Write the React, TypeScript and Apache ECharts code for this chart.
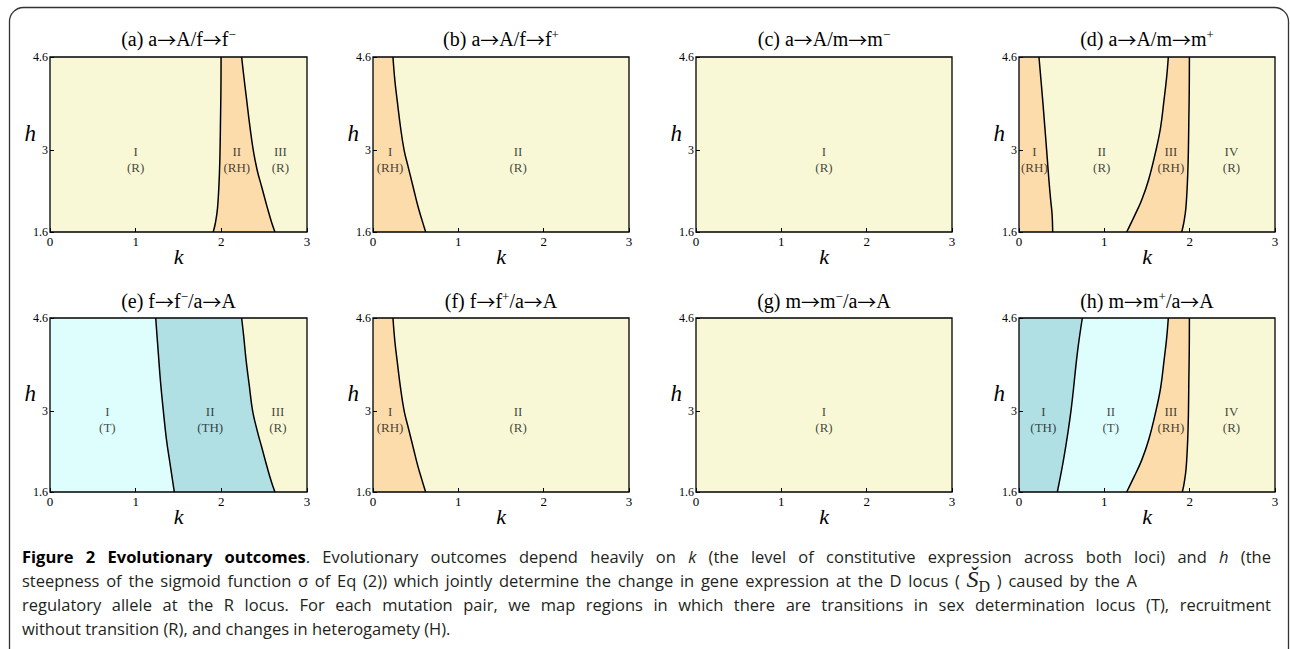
import React, { useEffect, useRef } from 'react';
import * as echarts from 'echarts';

// ---------- data ----------
const K_TICKS = [0, 1, 2, 3];
const H_TICKS = [1.6, 3, 4.6];
const K_MIN = 0, K_MAX = 3, H_MIN = 1.6, H_MAX = 4.6;
const LABEL_H = 2.85;

// boundary curves: [k, h]
const CURVE_A1 = [[1.905, 1.6], [1.93, 1.75], [1.955, 2.0], [1.975, 2.5], [1.985, 3.0], [1.99, 3.5], [1.995, 4.0], [1.997, 4.6]];
const CURVE_A2 = [[2.626, 1.6], [2.59, 1.75], [2.54, 2.0], [2.47, 2.38], [2.42, 2.65], [2.373, 3.0], [2.33, 3.45], [2.296, 3.86], [2.26, 4.3], [2.237, 4.6]];
const CURVE_B1 = [[0.617, 1.6], [0.575, 1.8], [0.525, 2.05], [0.469, 2.38], [0.415, 2.7], [0.365, 3.0], [0.322, 3.4], [0.283, 3.86], [0.256, 4.2], [0.234, 4.6]];
const CURVE_D1 = [[0.395, 1.6], [0.388, 1.9], [0.371, 2.15], [0.35, 2.5], [0.324, 3.0], [0.3, 3.45], [0.277, 3.87], [0.234, 4.6]];
const CURVE_D2 = [[1.262, 1.6], [1.348, 1.86], [1.438, 2.15], [1.52, 2.5], [1.605, 3.0], [1.66, 3.4], [1.7, 3.87], [1.73, 4.25], [1.75, 4.6]];
const CURVE_D3 = [[1.907, 1.6], [1.93, 1.75], [1.955, 2.0], [1.975, 2.5], [1.985, 3.0], [1.99, 3.5], [1.995, 4.0], [1.997, 4.6]];
const CURVE_E1 = [[1.451, 1.6], [1.4, 2.1], [1.36, 2.5], [1.323, 3.0], [1.29, 3.5], [1.264, 4.0], [1.234, 4.6]];
const CURVE_E2 = [[2.626, 1.6], [2.59, 1.75], [2.54, 2.0], [2.47, 2.38], [2.42, 2.65], [2.365, 3.0], [2.325, 3.45], [2.29, 3.86], [2.26, 4.3], [2.237, 4.6]];
const CURVE_F1 = [[0.617, 1.6], [0.575, 1.8], [0.525, 2.05], [0.469, 2.38], [0.415, 2.7], [0.365, 3.0], [0.322, 3.4], [0.283, 3.86], [0.256, 4.2], [0.234, 4.6]];
const CURVE_H1 = [[0.449, 1.6], [0.527, 2.2], [0.609, 3.0], [0.684, 4.0], [0.742, 4.6]];
const CURVE_H2 = [[1.262, 1.6], [1.348, 1.86], [1.438, 2.15], [1.52, 2.5], [1.605, 3.0], [1.66, 3.4], [1.7, 3.87], [1.73, 4.25], [1.75, 4.6]];
const CURVE_H3 = [[1.914, 1.6], [1.935, 1.75], [1.958, 2.0], [1.977, 2.5], [1.986, 3.0], [1.99, 3.5], [1.995, 4.0], [1.997, 4.6]];

// region labels: [k, numeral, outcome]
const LABELS_A = [[1.0, 'I', '(R)'], [2.18, 'II', '(RH)'], [2.69, 'III', '(R)']];
const LABELS_B = [[0.2, 'I', '(RH)'], [1.7, 'II', '(R)']];
const LABELS_C = [[1.5, 'I', '(R)']];
const LABELS_D = [[0.18, 'I', '(RH)'], [0.97, 'II', '(R)'], [1.78, 'III', '(RH)'], [2.49, 'IV', '(R)']];
const LABELS_E = [[0.67, 'I', '(T)'], [1.87, 'II', '(TH)'], [2.66, 'III', '(R)']];
const LABELS_F = [[0.2, 'I', '(RH)'], [1.7, 'II', '(R)']];
const LABELS_G = [[1.5, 'I', '(R)']];
const LABELS_H = [[0.285, 'I', '(TH)'], [1.075, 'II', '(T)'], [1.78, 'III', '(RH)'], [2.49, 'IV', '(R)']];

// titles: [text, kind]  m = main, r = arrow, s = superscript
const TITLE_A = [['(a) a', 'm'], ['→', 'r'], ['A/f', 'm'], ['→', 'r'], ['f', 'm'], ['−', 's']];
const TITLE_B = [['(b) a', 'm'], ['→', 'r'], ['A/f', 'm'], ['→', 'r'], ['f', 'm'], ['+', 's']];
const TITLE_C = [['(c) a', 'm'], ['→', 'r'], ['A/m', 'm'], ['→', 'r'], ['m', 'm'], ['−', 's']];
const TITLE_D = [['(d) a', 'm'], ['→', 'r'], ['A/m', 'm'], ['→', 'r'], ['m', 'm'], ['+', 's']];
const TITLE_E = [['(e) f', 'm'], ['→', 'r'], ['f', 'm'], ['−', 's'], ['/a', 'm'], ['→', 'r'], ['A', 'm']];
const TITLE_F = [['(f) f', 'm'], ['→', 'r'], ['f', 'm'], ['+', 's'], ['/a', 'm'], ['→', 'r'], ['A', 'm']];
const TITLE_G = [['(g) m', 'm'], ['→', 'r'], ['m', 'm'], ['−', 's'], ['/a', 'm'], ['→', 'r'], ['A', 'm']];
const TITLE_H = [['(h) m', 'm'], ['→', 'r'], ['m', 'm'], ['+', 's'], ['/a', 'm'], ['→', 'r'], ['A', 'm']];

// ---------- styles ----------
const SERIF = "'Liberation Serif', 'Times New Roman', 'DejaVu Serif', serif";
const SANS = "'Open Sans', 'Noto Sans', sans-serif";
const ARROW_FONT = "'Noto Sans CJK SC', 'DejaVu Serif', serif";
const Y = '#F8F8D6';
const O = '#FDDCAB';
const C = '#DEFEFE';
const T = '#B0DFE4';

const PANELS = [
  { title: TITLE_A, curves: [CURVE_A1, CURVE_A2], fills: [Y, O, Y], labels: LABELS_A },
  { title: TITLE_B, curves: [CURVE_B1], fills: [O, Y], labels: LABELS_B },
  { title: TITLE_C, curves: [], fills: [Y], labels: LABELS_C },
  { title: TITLE_D, curves: [CURVE_D1, CURVE_D2, CURVE_D3], fills: [O, Y, O, Y], labels: LABELS_D },
  { title: TITLE_E, curves: [CURVE_E1, CURVE_E2], fills: [C, T, Y], labels: LABELS_E },
  { title: TITLE_F, curves: [CURVE_F1], fills: [O, Y], labels: LABELS_F },
  { title: TITLE_G, curves: [], fills: [Y], labels: LABELS_G },
  { title: TITLE_H, curves: [CURVE_H1, CURVE_H2, CURVE_H3], fills: [T, C, O, Y], labels: LABELS_H },
];

const GRID_LEFTS = [50, 373, 696, 1019];
const GRID_WIDTHS = [257, 256, 256, 256];
const GRID_TOPS = [57, 318];
const GRID_HEIGHTS = [175, 174];
const TITLE_YS = [39, 301];

// ---------- caption ----------
type Part = { s: string; b?: boolean; i?: boolean; serif?: boolean; size?: number; dy?: number; glue?: boolean; color?: string };
const CAP_SIZE = 16.5;
const CAP_X0 = 22;
const CAP_YS = [556, 580, 604, 628];
const CAPTION_LINES: { end: number | null; parts: Part[] }[] = [
  {
    end: 1271,
    parts: [
      { s: 'Figure 2 Evolutionary outcomes', b: true, color: '#000' },
      { s: '. Evolutionary outcomes depend heavily on', glue: true },
      { s: 'k', i: true },
      { s: '(the level of constitutive expression across both loci) and' },
      { s: 'h', i: true },
      { s: '(the' },
    ],
  },
  {
    end: 1137,
    parts: [
      { s: 'steepness of the sigmoid function σ of Eq (2)) which jointly determine the change in gene expression at the D locus (' },
      { s: 'Š', serif: true, i: true, size: 24, dy: -1 },
      { s: 'D', serif: true, size: 16, dy: 6, glue: true },
      { s: ') caused by the A' },
    ],
  },
  {
    end: 1271,
    parts: [
      { s: 'regulatory allele at the R locus. For each mutation pair, we map regions in which there are transitions in sex determination locus (T), recruitment' },
    ],
  },
  {
    end: null,
    parts: [{ s: 'without transition (R), and changes in heterogamety (H).' }],
  },
];

function buildCaption(): any[] {
  const canvas = document.createElement('canvas');
  const ctx = canvas.getContext('2d') as CanvasRenderingContext2D;
  const els: any[] = [];
  CAPTION_LINES.forEach((line, li) => {
    const words: any[] = [];
    line.parts.forEach((p) => {
      const ws = p.s.split(' ').filter((w) => w.length > 0);
      ws.forEach((w, wi) => words.push({ ...p, s: w, glue: wi === 0 ? !!p.glue : false }));
    });
    const fontOf = (w: any) =>
      `${w.i ? 'italic ' : ''}${w.b ? 'bold ' : ''}${w.size || CAP_SIZE}px ${w.serif ? SERIF : SANS}`;
    words.forEach((w) => {
      ctx.font = fontOf(w);
      w.width = ctx.measureText(w.s).width;
    });
    ctx.font = `${CAP_SIZE}px ${SANS}`;
    const space = ctx.measureText(' ').width;
    const nGaps = words.filter((w, i) => i > 0 && !w.glue).length;
    const total = words.reduce((a, w) => a + w.width, 0);
    const gap = line.end != null ? Math.max(space * 0.8, (line.end - CAP_X0 - total) / nGaps) : space;
    let x = CAP_X0;
    words.forEach((w, i) => {
      if (i > 0 && !w.glue) x += gap;
      els.push({
        type: 'text',
        x,
        y: CAP_YS[li] + (w.dy || 0),
        silent: true,
        style: {
          text: w.s,
          fontFamily: w.serif ? SERIF : SANS,
          fontSize: w.size || CAP_SIZE,
          fontWeight: w.b ? 'bold' : 'normal',
          fontStyle: w.i ? 'italic' : 'normal',
          fill: w.color || '#231F20',
          align: 'left',
          verticalAlign: 'middle',
        },
      });
      x += w.width;
    });
  });
  return els;
}

function sortByH(c: number[][]) {
  return c.slice().sort((a, b) => a[1] - b[1]);
}

function buildOption() {
  const grids: any[] = [];
  const xAxes: any[] = [];
  const yAxes: any[] = [];
  const series: any[] = [];
  const graphics: any[] = [];

  graphics.push({
    type: 'rect',
    z: -10,
    silent: true,
    shape: { x: 9.5, y: 7.5, width: 1279, height: 660, r: 14 },
    style: { fill: 'none', stroke: '#333', lineWidth: 1.3 },
  });

  PANELS.forEach((p, i) => {
    const col = i % 4, row = Math.floor(i / 4);
    const left = GRID_LEFTS[col], width = GRID_WIDTHS[col];
    const top = GRID_TOPS[row], height = GRID_HEIGHTS[row];
    grids.push({ left, top, width, height, show: true, borderColor: '#000', borderWidth: 1.3, backgroundColor: 'transparent', z: 10, containLabel: false });
    xAxes.push({
      gridIndex: i, type: 'value', min: K_MIN, max: K_MAX, interval: 1, z: 10,
      name: 'k', nameLocation: 'middle', nameGap: 13, nameMoveOverlap: false,
      nameTextStyle: { fontFamily: SERIF, fontStyle: 'italic', fontSize: 22, color: '#000' },
      axisLine: { show: false },
      axisTick: { show: true, inside: true, length: 4, lineStyle: { color: '#000', width: 1 } },
      axisLabel: { fontFamily: SERIF, fontSize: 13, color: '#000', margin: 3, showMinLabel: true, showMaxLabel: true, customValues: K_TICKS },
      splitLine: { show: false },
    });
    yAxes.push({
      gridIndex: i, type: 'value', min: H_MIN, max: H_MAX, z: 10,
      name: 'h', nameLocation: 'middle', nameRotate: 0, nameGap: 14, nameMoveOverlap: false,
      nameTextStyle: { fontFamily: SERIF, fontStyle: 'italic', fontSize: 23, color: '#000', verticalAlign: 'bottom' },
      axisLine: { show: false },
      axisTick: { show: true, inside: true, length: 4, lineStyle: { color: '#000', width: 1 }, customValues: H_TICKS },
      axisLabel: { fontFamily: SERIF, fontSize: 12, color: '#000', margin: 2, customValues: H_TICKS, formatter: (v: number) => String(v) },
      splitLine: { show: false },
    });

    const curves = p.curves.map(sortByH);
    const edgeL = [[K_MIN, H_MIN], [K_MIN, H_MAX]];
    const edgeR = [[K_MAX, H_MIN], [K_MAX, H_MAX]];
    const regions = p.fills.map((fill, ri) => ({
      left: ri === 0 ? edgeL : curves[ri - 1],
      right: ri === p.fills.length - 1 ? edgeR : curves[ri],
      fill,
    }));
    series.push({
      type: 'custom', xAxisIndex: i, yAxisIndex: i, silent: true, z: 1, clip: true,
      data: regions.map((r) => [(r.left[0][0] + r.right[0][0]) / 2, 3]),
      encode: { x: 0, y: 1 },
      renderItem: (params: any, api: any) => {
        const r = regions[params.dataIndex];
        const pts = [
          ...r.left.map((q) => api.coord(q)),
          ...r.right.slice().reverse().map((q) => api.coord(q)),
        ];
        return { type: 'polygon', shape: { points: pts }, style: { fill: r.fill, stroke: r.fill, lineWidth: 0.5 } };
      },
    });
    curves.forEach((c) => {
      series.push({
        type: 'line', xAxisIndex: i, yAxisIndex: i, data: c, showSymbol: false, symbol: 'none',
        smooth: 0.4, silent: true, z: 3,
        lineStyle: { color: '#000', width: 1.5 },
      });
    });
    series.push({
      type: 'scatter', xAxisIndex: i, yAxisIndex: i, symbolSize: 0, silent: true, z: 4,
      data: p.labels.map((l: any) => ({ value: [l[0], LABEL_H], name: l[1] + '\n' + l[2] })),
      label: {
        show: true, position: 'inside', formatter: '{b}',
        fontFamily: SERIF, fontSize: 13, lineHeight: 16, color: '#111',
      },
    });

    const richText = p.title.map((seg: any) => `{${seg[1]}|${seg[0]}}`).join('');
    graphics.push({
      type: 'text',
      x: left + width / 2,
      y: TITLE_YS[row],
      silent: true,
      style: {
        text: richText,
        align: 'center',
        verticalAlign: 'middle',
        rich: {
          m: { fontFamily: SERIF, fontSize: 20, lineHeight: 22, fill: '#000' },
          r: { fontFamily: ARROW_FONT, fontSize: 19, lineHeight: 22, fill: '#000' },
          s: { fontFamily: SERIF, fontSize: 13, lineHeight: 12, fill: '#000', verticalAlign: 'top' },
        },
      },
    });
  });

  buildCaption().forEach((e) => graphics.push(e));

  return {
    animation: false,
    backgroundColor: '#fff',
    grid: grids,
    xAxis: xAxes,
    yAxis: yAxes,
    series,
    graphic: { elements: graphics },
  };
}

export default function App() {
  const ref = useRef<HTMLDivElement>(null);
  useEffect(() => {
    if (!ref.current) return;
    const chart = echarts.init(ref.current, null, { renderer: 'svg' });
    chart.setOption(buildOption() as any);
    return () => chart.dispose();
  }, []);
  return <div ref={ref} style={{ position: 'fixed', left: 0, top: 0, width: 1290, height: 649 }} />;
}
